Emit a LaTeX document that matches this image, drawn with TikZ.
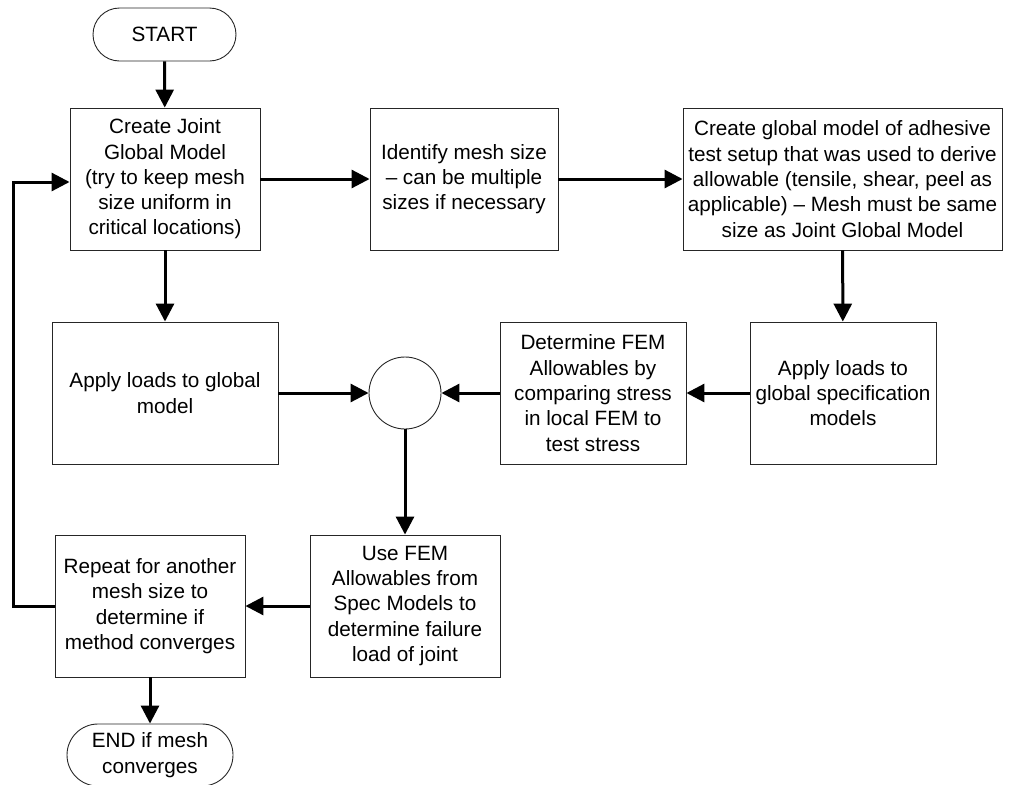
\documentclass[tikz,border=0pt]{standalone}
\usepackage{fontspec}
\setmainfont{Liberation Sans}
\usetikzlibrary{shapes.misc,shapes.geometric,arrows.meta}
\begin{document}
\begin{tikzpicture}[x=1pt,y=-1pt,
  box/.style={draw=black!85,line width=0.9pt,rectangle,inner sep=0pt,align=center,
    font=\fontsize{20.7}{25.3}\selectfont,minimum height=142pt},
  term/.style={draw=black!85,line width=0.9pt,rounded rectangle,inner sep=0pt,align=center,
    font=\fontsize{20.7}{25.3}\selectfont},
  circ/.style={draw=black!85,line width=0.9pt,circle,inner sep=0pt,minimum size=72pt},
  flow/.style={line width=3pt,-{Triangle[length=18pt,width=18pt]}}]
\useasboundingbox (0,0) rectangle (1013,785);
\clip (0,0) rectangle (1013,785);
\node[term,minimum width=143pt,minimum height=53pt] (start) at (164.5,34.5) {START};
\node[box,minimum width=190pt] (b1) at (165,179) {Create Joint\\Global Model\\(try to keep mesh\\size uniform in\\critical locations)};
\node[box,minimum width=188pt] (b2) at (464,179) {Identify mesh size\\– can be multiple\\sizes if necessary};
\node[box,minimum width=319pt] (b3) at (842.5,179) {Create global model of adhesive\\test setup that was used to derive\\allowable (tensile, shear, peel as\\applicable) – Mesh must be same\\size as Joint Global Model};
\node[box,minimum width=226pt] (ag) at (165,393) {Apply loads to global\\model};
\node[circ] (c) at (405,393) {};
\node[box,minimum width=186pt] (det) at (593,393) {Determine FEM\\Allowables by\\comparing stress\\in local FEM to\\test stress};
\node[box,minimum width=186pt] (as) at (843,393) {Apply loads to\\global specification\\models};
\node[box,minimum width=190pt] (use) at (405,606) {Use FEM\\Allowables from\\Spec Models to\\determine failure\\load of joint};
\node[box,minimum width=190pt] (rep) at (150,606) {Repeat for another\\mesh size to\\determine if\\method converges};
\node[term,minimum width=166pt,minimum height=62pt] (end) at (150,755) {END if mesh\\converges};
\draw[flow] (start) -- (b1);
\draw[flow] (b1) -- (b2);
\draw[flow] (b2) -- (b3);
\draw[flow] (b3) -- (as);
\draw[flow] (as) -- (det);
\draw[flow] (det) -- (c);
\draw[flow] (ag) -- (c);
\draw[flow] (b1) -- (ag);
\draw[flow] (c) -- (use);
\draw[flow] (use) -- (rep);
\draw[flow] (rep) -- (end);
\coordinate (lp) at (13,606);
\draw[flow] (rep.west) -- (lp) |- ([yshift=-3pt]b1.west);
\end{tikzpicture}
\end{document}
